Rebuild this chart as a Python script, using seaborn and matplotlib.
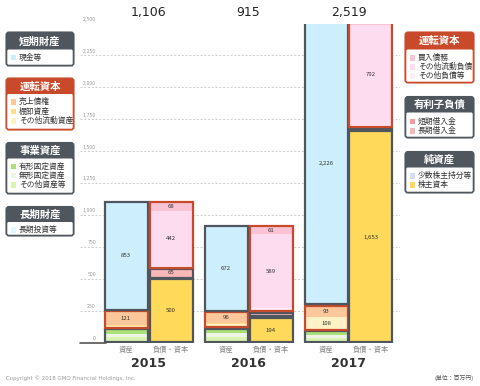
import numpy as np
import matplotlib
matplotlib.use('Agg')
import matplotlib.pyplot as plt
import matplotlib.transforms as mtrans
from matplotlib.patches import FancyBboxPatch, Rectangle
import seaborn as sns

sns.set_theme(style='white')
plt.rcParams['font.family'] = ['Noto Sans CJK JP', 'DejaVu Sans']

# ---- data (百万円) ----
years = ['2015', '2016', '2017']
totals = [1106, 915, 2519]

# assets, bottom to top
lt_invest = [0, 0, 0]
other_assets = [40, 45, 35]
intangible = [25, 28, 22]
tangible = [42, 40, 35]
other_current_assets = [22, 31, 108]
inventory = [3, 3, 0]
receivables = [121, 96, 93]
cash = [853, 672, 2226]

# liabilities & equity, bottom to top
shareholders_equity = [500, 194, 1653]
minority = [3, 6, 7]
short_term_debt = [10, 5, 5]
long_term_debt = [65, 35, 15]
other_liab = [18, 25, 22]
other_current_liab = [442, 589, 792]
payables = [68, 61, 25]

DARK = '#4f565d'
ORANGE = '#c94a2b'
col = {
    'cash': '#cdeefc', 'recv': '#fcc79a', 'inv': '#ffe08a', 'oca': '#fff1c6',
    'tan': '#a9e07a', 'intan': '#eef5e4', 'oa': '#dcf3b4', 'lti': '#e2f6fc',
    'pay': '#f9c3d3', 'ocl': '#fddcf0', 'ol': '#fdeef8',
    'std': '#f59b9b', 'ltd': '#f8b8b8', 'min': '#d4dcf8', 'eq': '#ffd95a',
}

asset_groups = [
    (DARK, [(lt_invest, col['lti'])]),
    (DARK, [(other_assets, col['oa']), (intangible, col['intan']), (tangible, col['tan'])]),
    (ORANGE, [(other_current_assets, col['oca']), (inventory, col['inv']), (receivables, col['recv'])]),
    (DARK, [(cash, col['cash'])]),
]
liab_groups = [
    (DARK, [(shareholders_equity, col['eq']), (minority, col['min'])]),
    (DARK, [(short_term_debt, col['std']), (long_term_debt, col['ltd'])]),
    (ORANGE, [(other_liab, col['ol']), (other_current_liab, col['ocl']), (payables, col['pay'])]),
]

fig = plt.figure(figsize=(4.8, 3.86), dpi=100)
ax = fig.add_axes([80 / 480, (386 - 342.5) / 386, 320 / 480, 319 / 386])
ax.set_xlim(-0.685, 2.515)
ax.set_ylim(0, 2500)
ax.axis('off')

trans_lab = mtrans.blended_transform_factory(ax.transAxes, ax.transData)
for v in range(0, 2501, 250):
    ax.axhline(v, color='#c8c8c8', lw=0.6, ls=(0, (2.5, 2)), zorder=0)
    ax.text(0.05, v + 12, f'{v:,}', transform=trans_lab, ha='right', va='bottom',
            fontsize=3.8, color='#9a9a9a')
ax.plot([-0.685, -0.43], [0, 0], color='#555555', lw=1.2, zorder=1, clip_on=False)

width = 0.43
pad = 5


def draw_stack(x, i, groups):
    start = 0
    for ec, segs in groups:
        tot = sum(s[0][i] for s in segs)
        if tot <= 0:
            continue
        lo, hi = start + pad, start + tot - pad
        scale = (hi - lo) / tot
        b = lo
        for vals, c in segs:
            h = vals[i] * scale
            ax.bar(x, h, bottom=b, width=width, color=c, lw=0, zorder=2)
            if vals[i] >= 50:
                ax.text(x, b + h / 2, f'{vals[i]:,}', ha='center', va='center',
                        fontsize=4.3, color='#333333', zorder=4)
            b += h
        ax.bar(x, hi - lo, bottom=lo, width=width, fill=False, edgecolor=ec,
               lw=1.6, zorder=3)
        start += tot


trans_x = mtrans.blended_transform_factory(ax.transData, ax.transAxes)
for i, yr in enumerate(years):
    xa, xl = i - 0.225, i + 0.225
    draw_stack(xa, i, asset_groups)
    draw_stack(xl, i, liab_groups)
    ax.text(xa, -0.012, '資産', transform=trans_x, ha='center', va='top',
            fontsize=5.2, color='#888888')
    ax.text(xl, -0.012, '負債・資本', transform=trans_x, ha='center', va='top',
            fontsize=5.2, color='#888888')
    ax.text(i, -0.045, yr, transform=trans_x, ha='center', va='top',
            fontsize=9, fontweight='bold', color='#333333', family='DejaVu Sans')
    ax.text(i, 1.035, f'{totals[i]:,}', transform=trans_x, ha='center', va='center',
            fontsize=9, color='#222222', family='DejaVu Sans')

# ---- legend boxes (overlay in pixel units) ----
ov = fig.add_axes([0, 0, 1, 1], zorder=5)
ov.set_xlim(0, 480)
ov.set_ylim(386, 0)
ov.axis('off')
ov.patch.set_alpha(0)


def legend_box(x0, x1, y0, yh, y1, title, color, items):
    ov.add_patch(FancyBboxPatch((x0, y0), x1 - x0, y1 - y0,
                                boxstyle='round,pad=0,rounding_size=3',
                                facecolor=color, edgecolor=color, lw=0.8))
    ov.add_patch(FancyBboxPatch((x0 + 1.3, yh), x1 - x0 - 2.6, y1 - yh - 1.3,
                                boxstyle='round,pad=0,rounding_size=1.5',
                                facecolor='white', edgecolor='none'))
    ov.text((x0 + x1) / 2, (y0 + yh) / 2 + 0.5, title, ha='center', va='center',
            color='white', fontsize=7.5, fontweight='bold')
    for label, c, yy in items:
        ov.add_patch(Rectangle((x0 + 4.5, yy - 2.6), 5.2, 5.2, facecolor=c, edgecolor='none'))
        ov.text(x0 + 13, yy, label, ha='left', va='center', fontsize=5.6, color='#333333')


legend_box(6, 74, 32, 49.5, 66, '短期財産', DARK, [('現金等', col['cash'], 57.5)])
legend_box(6, 74, 78, 94, 130, '運転資本', ORANGE,
           [('売上債権', col['recv'], 102), ('棚卸資産', col['inv'], 111.5),
            ('その他流動資産', col['oca'], 121)])
legend_box(6, 74, 142.5, 158.5, 194, '事業資産', DARK,
           [('有形固定資産', col['tan'], 166.5), ('無形固定資産', col['intan'], 175.5),
            ('その他資産等', col['oa'], 185)])
legend_box(6, 74, 206.5, 222, 236, '長期財産', DARK, [('長期投資等', col['lti'], 230)])

legend_box(405, 474, 32, 49.5, 83, '運転資本', ORANGE,
           [('買入債務', col['pay'], 58), ('その他流動負債', col['ocl'], 67),
            ('その他負債等', col['ol'], 76)])
legend_box(405, 474, 96.5, 112.5, 138, '有利子負債', DARK,
           [('短期借入金', col['std'], 121.5), ('長期借入金', col['ltd'], 131)])
legend_box(405, 474, 151.5, 167.5, 193, '純資産', DARK,
           [('少数株主持分等', col['min'], 176), ('株主資本', col['eq'], 185)])

ov.text(6, 378, 'Copyright © 2018 GMO Financial Holdings, Inc.', ha='left', va='center',
        fontsize=4, color='#999999', family='DejaVu Sans')
ov.text(474, 378, '(単位：百万円)', ha='right', va='center', fontsize=4.2, color='#555555')

fig.savefig('out.png', dpi=100)
